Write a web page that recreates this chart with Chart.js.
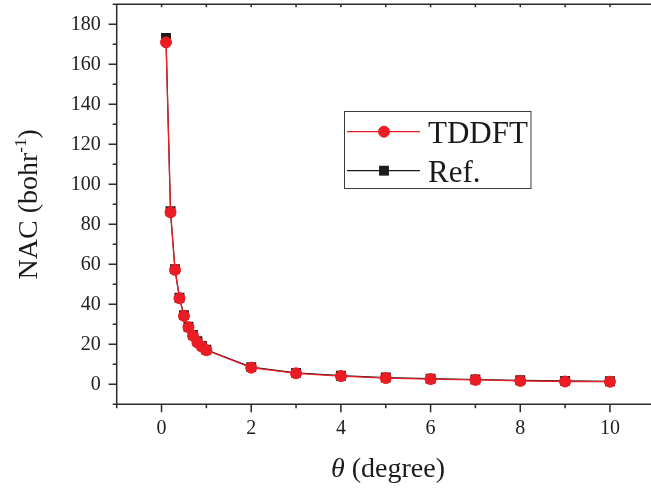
<!DOCTYPE html>
<html>
<head>
<meta charset="utf-8">
<script src="https://cdn.jsdelivr.net/npm/chart.js@4.4.1/dist/chart.umd.min.js"></script>
<style>
  html, body { margin: 0; padding: 0; background: #fff; overflow: hidden; }
  canvas { display: block; }
</style>
</head>
<body>
<canvas id="nac" width="651" height="489"></canvas>
<script>
// Rotation angle in degrees
const thetaDeg = [0.1, 0.2, 0.3, 0.4, 0.5, 0.6, 0.7, 0.8, 0.9, 1.0, 2, 3, 4, 5, 6, 7, 8, 9, 10];
// Non-adiabatic coupling (bohr^-1), real-time TDDFT
const nacTDDFT = [171, 86, 57.2, 43, 34.2, 28.5, 24.3, 20.9, 18.8, 17, 8.3, 5.5, 4.1, 3.1, 2.6, 2.2, 1.7, 1.4, 1.3];
// Non-adiabatic coupling (bohr^-1), reference values
const nacRef = [173.2, 86.5, 57.6, 43.3, 34.6, 28.8, 24.7, 21.5, 19.2, 17.3, 8.6, 5.7, 4.3, 3.4, 2.8, 2.4, 2.0, 1.7, 1.5];

const seriesNames = ['TDDFT', 'Ref.'];
const xMajorTicks = [0, 2, 4, 6, 8, 10];
const yMajorTicks = [0, 20, 40, 60, 80, 100, 120, 140, 160, 180];

const SERIF = "'Liberation Serif', 'Times New Roman', serif";
const RED = '#ec1c24';
const BLACK = '#1b1b1b';
const AXIS = '#2a2a2a';

Chart.defaults.font.family = SERIF;
Chart.defaults.color = '#222';

const toPoints = (xs, ys) => xs.map((x, i) => ({ x, y: ys[i] }));

// Axis frame with major/minor tick marks, inward ticks on the top edge
const axisFrame = {
  id: 'axisFrame',
  afterDraw(chart) {
    const { ctx, chartArea: a, scales: { x, y } } = chart;
    ctx.save();
    ctx.strokeStyle = AXIS;
    ctx.lineWidth = 1.5;
    ctx.beginPath();
    ctx.moveTo(a.left, a.top);
    ctx.lineTo(a.left, a.bottom);
    ctx.lineTo(a.right + 1, a.bottom);
    ctx.moveTo(a.left - 4, a.top);
    ctx.lineTo(a.right + 1, a.top);
    x.ticks.forEach(t => {
      const px = x.getPixelForValue(t.value);
      const major = xMajorTicks.includes(t.value);
      ctx.moveTo(px, a.bottom);
      ctx.lineTo(px, a.bottom + (major ? 8 : 4));
      ctx.moveTo(px, a.top);
      ctx.lineTo(px, a.top + 3);
    });
    y.ticks.forEach(t => {
      const py = y.getPixelForValue(t.value);
      const major = yMajorTicks.includes(t.value);
      ctx.moveTo(a.left, py);
      ctx.lineTo(a.left - (major ? 8 : 4), py);
    });
    ctx.stroke();
    ctx.restore();
  }
};

// Axis titles (with superscript and italic symbol)
const axisTitles = {
  id: 'axisTitles',
  afterDraw(chart) {
    const { ctx, chartArea: a } = chart;
    ctx.save();
    ctx.fillStyle = '#1a1a1a';
    ctx.textBaseline = 'alphabetic';

    // y title: NAC (bohr^-1)
    const big = '28px ' + SERIF, small = '17px ' + SERIF;
    ctx.font = big;
    const t1 = 'NAC (bohr', t3 = ')';
    const w1 = ctx.measureText(t1).width, w3 = ctx.measureText(t3).width;
    ctx.font = small;
    const t2 = '-1';
    const w2 = ctx.measureText(t2).width;
    const total = w1 + w2 + w3;
    ctx.translate(37, (a.top + a.bottom) / 2);
    ctx.rotate(-Math.PI / 2);
    let sx = -total / 2;
    ctx.font = big; ctx.fillText(t1, sx, 0); sx += w1;
    ctx.font = small; ctx.fillText(t2, sx, -11); sx += w2;
    ctx.font = big; ctx.fillText(t3, sx, 0);
    ctx.setTransform(1, 0, 0, 1, 0, 0);

    // x title: θ (degree)
    const th = 'θ', rest = ' (degree)';
    ctx.font = 'italic 28px ' + SERIF;
    const wt = ctx.measureText(th).width;
    ctx.font = '28px ' + SERIF;
    const wr = ctx.measureText(rest).width;
    let xx = 388 - (wt + wr) / 2;
    ctx.font = 'italic 28px ' + SERIF; ctx.fillText(th, xx, 477);
    ctx.font = '28px ' + SERIF; ctx.fillText(rest, xx + wt, 477);
    ctx.restore();
  }
};

// Framed legend inside the plot, built from the datasets
const boxLegend = {
  id: 'boxLegend',
  afterDraw(chart) {
    const { ctx } = chart;
    const box = { x: 344.5, y: 111.5, w: 186.5, h: 77 };
    ctx.save();
    ctx.strokeStyle = '#3a3a3a';
    ctx.lineWidth = 1;
    ctx.strokeRect(box.x, box.y, box.w, box.h);
    chart.data.datasets.forEach((ds, i) => {
      const cy = 131.7 + i * 39;
      ctx.strokeStyle = ds.borderColor;
      ctx.lineWidth = 1.2;
      ctx.beginPath();
      ctx.moveTo(347, cy); ctx.lineTo(420, cy);
      ctx.stroke();
      ctx.fillStyle = ds.pointBackgroundColor;
      ctx.strokeStyle = ds.pointBorderColor;
      ctx.lineWidth = ds.pointBorderWidth;
      ctx.beginPath();
      if (ds.pointStyle === 'circle') {
        ctx.arc(384, cy, ds.pointRadius, 0, Math.PI * 2);
      } else {
        const s = ds.pointRadius * Math.SQRT1_2;
        ctx.rect(384 - s, cy - s, 2 * s, 2 * s);
      }
      ctx.fill();
      if (ds.pointBorderWidth > 0) ctx.stroke();
      ctx.fillStyle = '#1a1a1a';
      ctx.font = '31px ' + SERIF;
      ctx.textBaseline = 'alphabetic';
      ctx.fillText(ds.label, 428, cy + 11.5);
    });
    ctx.restore();
  }
};

new Chart(document.getElementById('nac'), {
  type: 'line',
  data: {
    datasets: [
      {
        label: seriesNames[0],
        data: toPoints(thetaDeg, nacTDDFT),
        borderColor: RED,
        borderWidth: 1.3,
        pointStyle: 'circle',
        pointRadius: 5.5,
        pointBorderWidth: 1,
        pointBackgroundColor: RED,
        pointBorderColor: RED,
        tension: 0
      },
      {
        label: seriesNames[1],
        data: toPoints(thetaDeg, nacRef),
        borderColor: BLACK,
        borderWidth: 1.2,
        pointStyle: 'rect',
        pointRadius: 7,
        pointBorderWidth: 0,
        pointBackgroundColor: BLACK,
        pointBorderColor: BLACK,
        tension: 0
      }
    ]
  },
  options: {
    responsive: false,
    animation: false,
    events: [],
    layout: { autoPadding: false, padding: { left: 0, top: 4.3, right: 0.7, bottom: 0 } },
    plugins: { legend: { display: false }, tooltip: { enabled: false } },
    scales: {
      x: {
        type: 'linear',
        min: -1,
        max: 10.9,
        grid: { display: false, drawTicks: false },
        border: { display: false },
        afterFit: s => { s.height = 84.7; s.paddingLeft = 0; s.paddingRight = 0; },
        ticks: {
          stepSize: 1,
          includeBounds: false,
          autoSkip: false,
          maxRotation: 0,
          padding: 12,
          font: { size: 20 },
          callback: v => (xMajorTicks.includes(v) ? String(v) : '')
        }
      },
      y: {
        type: 'linear',
        min: -10,
        max: 190,
        grid: { display: false, drawTicks: false },
        border: { display: false },
        afterFit: s => { s.width = 116.7; s.paddingTop = 0; s.paddingBottom = 0; },
        ticks: {
          stepSize: 10,
          autoSkip: false,
          padding: 16,
          font: { size: 20 },
          callback: v => (yMajorTicks.includes(v) ? String(v) : '')
        }
      }
    }
  },
  plugins: [axisFrame, axisTitles, boxLegend]
});
</script>
</body>
</html>
